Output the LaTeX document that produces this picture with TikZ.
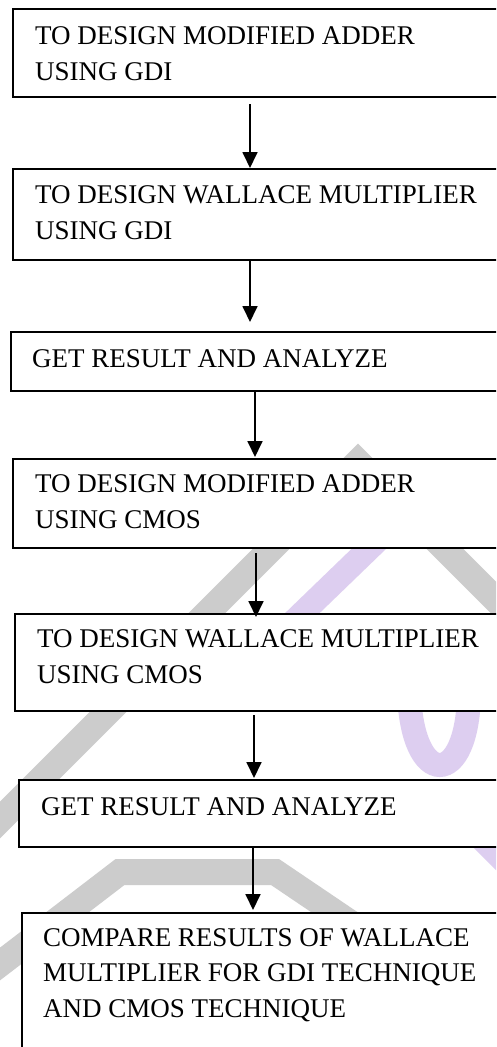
\documentclass[tikz,border=0pt]{standalone}
\usepackage{fontspec}
\setmainfont{Liberation Serif}
\usetikzlibrary{arrows.meta}
\definecolor{wmgray}{RGB}{204,204,204}
\definecolor{wmpurple}{RGB}{221,206,240}
\begin{document}
\begin{tikzpicture}[x=1pt,y=-1pt,
  box/.style={draw=black, line width=1.6pt, fill=white, anchor=north west, inner sep=0pt, outer sep=0pt, rectangle, minimum width=#1},
  box/.default=507pt,
  lbl/.style={anchor=base west, inner sep=0pt, align=left, font=\fontsize{27}{35.5}\selectfont},
  arr/.style={line width=1.8pt, -{Triangle[width=15pt,length=16pt]}},
  wm/.style={line width=26pt, line join=miter}]
\useasboundingbox (0,0) rectangle (496,1047);
\clip (0,0) rectangle (496,1047);
\fill[white] (0,0) rectangle (496,1047);
% watermark
\draw[wm, wmgray] (-150,970) -- (358,462) -- (700,804);
\draw[wm, wmgray] (-60,1010) -- (120,872) -- (275,872) -- (420,970);
\draw[line width=24pt, wmpurple] (378,540) -- (290,625);
\draw[line width=24pt, wmpurple] (409,690) .. controls (411,790) and (469,790) .. (469,690);
\draw[line width=20pt, wmpurple] (470,830) -- (520,880);
% boxes
\node[box, minimum height=88pt] (b1) at (13,9) {};
\node[box, minimum height=91pt] (b2) at (13,169) {};
\node[box, minimum height=59pt] (b3) at (11,332) {};
\node[box, minimum height=89pt] (b4) at (13,459) {};
\node[box=505pt, minimum height=97pt] (b5) at (15,614) {};
\node[box=501pt, minimum height=67pt] (b6) at (19,780) {};
\node[box=498pt, minimum height=150pt] (b7) at (22,913) {};
% texts (anchor = baseline of the last line)
\node[lbl] (t1) at (35,80) {TO DESIGN MODIFIED ADDER\\USING GDI};
\node[lbl] (t2) at (35,239) {TO DESIGN WALLACE MULTIPLIER\\USING GDI};
\node[lbl] (t3) at (32,367) {GET RESULT AND ANALYZE};
\node[lbl] (t4) at (35,528) {TO DESIGN MODIFIED ADDER\\USING CMOS};
\node[lbl] (t5) at (37,683) {TO DESIGN WALLACE MULTIPLIER\\USING CMOS};
\node[lbl] (t6) at (41,815) {GET RESULT AND ANALYZE};
\node[lbl] (t7) at (43,1017) {COMPARE RESULTS OF WALLACE\\MULTIPLIER FOR GDI TECHNIQUE\\AND CMOS TECHNIQUE};
% arrows
\coordinate (s1) at (250,104); \coordinate (e1) at (250,168);
\coordinate (s2) at (250,260); \coordinate (e2) at (250,322);
\coordinate (s3) at (255,391); \coordinate (e3) at (255,457);
\coordinate (s4) at (256,553); \coordinate (e4) at (256,617);
\coordinate (s5) at (254,715); \coordinate (e5) at (254,778);
\coordinate (s6) at (253,846); \coordinate (e6) at (253,910);
\draw[arr] (s1) -- (e1);
\draw[arr] (s2) -- (e2);
\draw[arr] (s3) -- (e3);
\draw[arr] (s4) -- (e4);
\draw[arr] (s5) -- (e5);
\draw[arr] (s6) -- (e6);
\end{tikzpicture}
\end{document}
